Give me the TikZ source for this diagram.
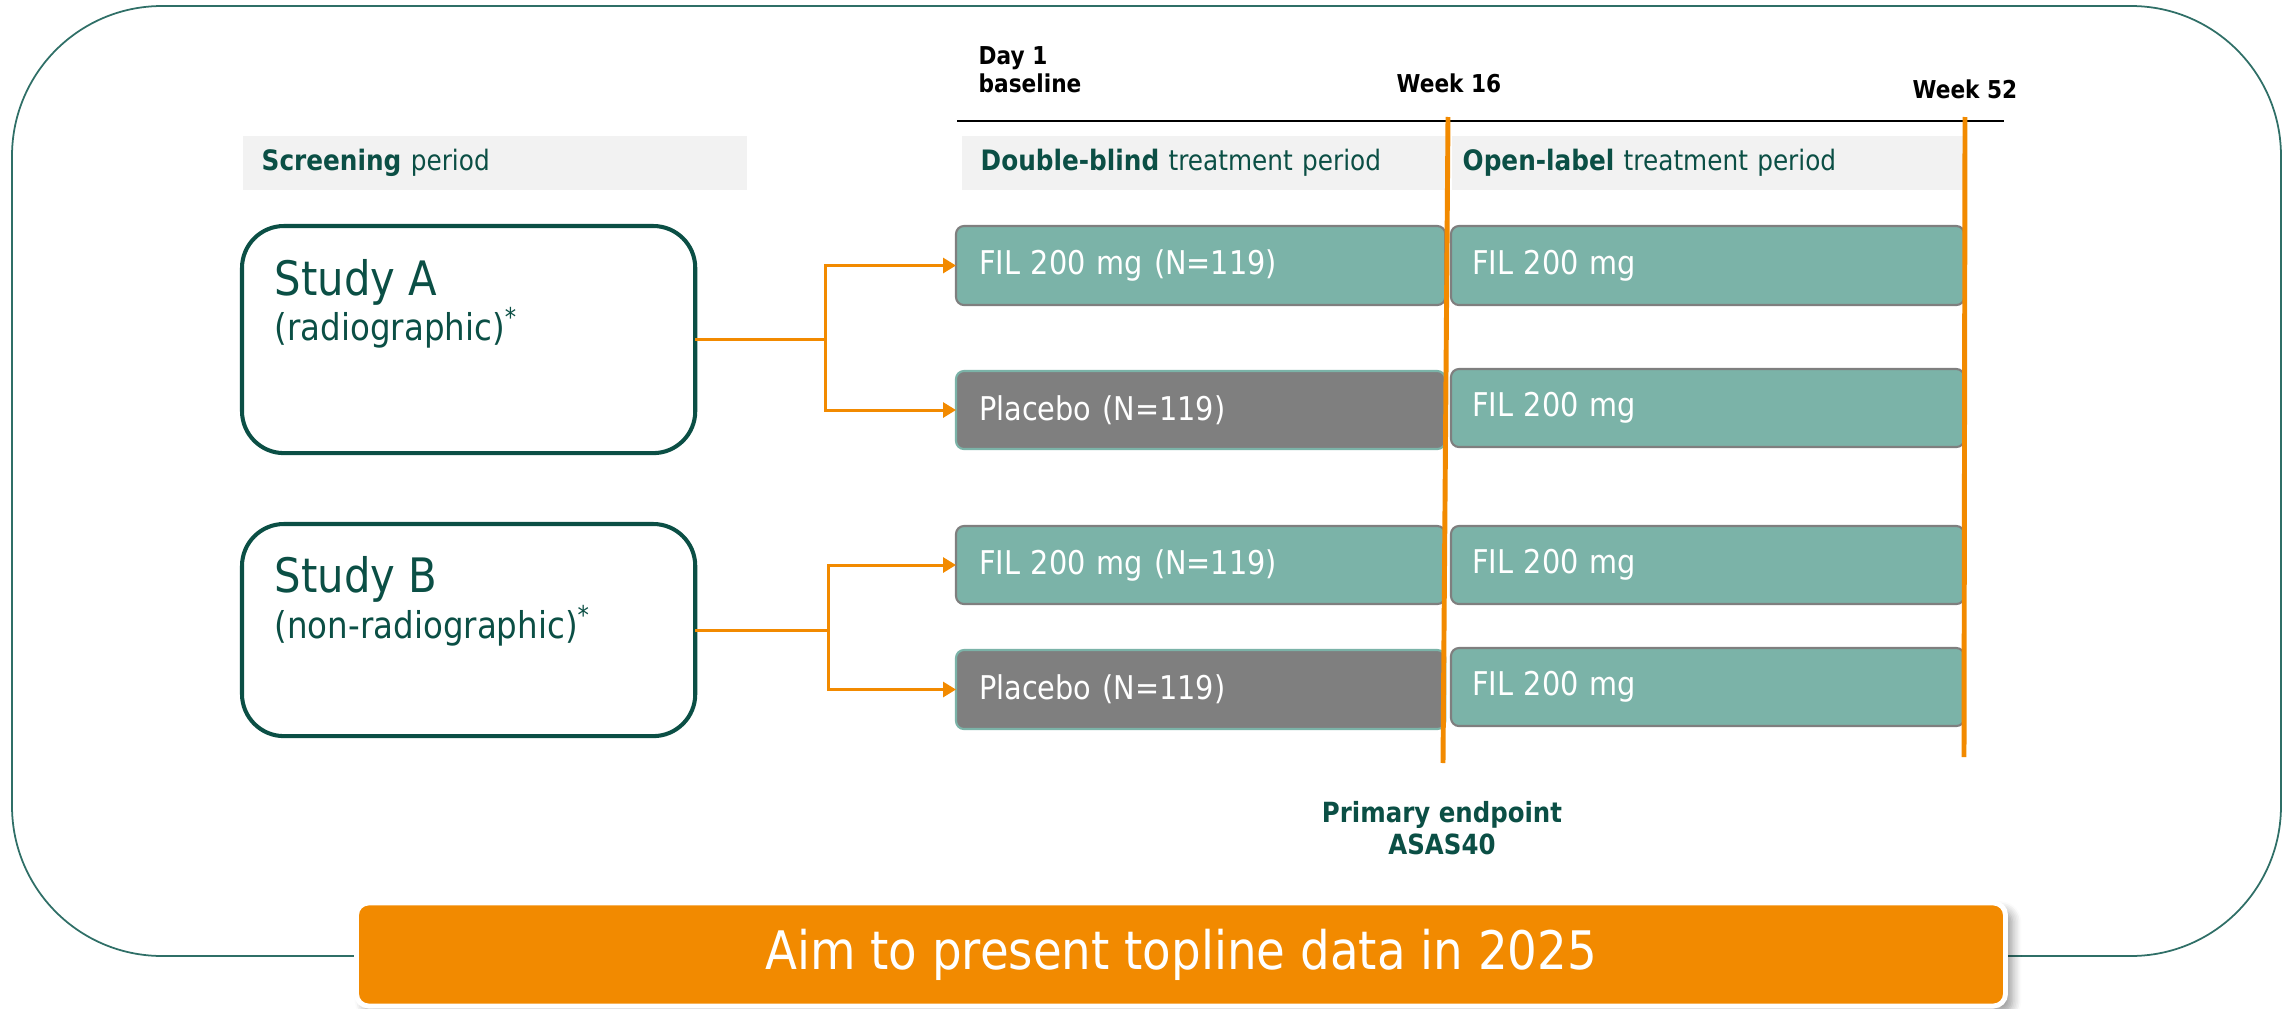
\documentclass[tikz,border=0pt]{standalone}
\usepackage{fontspec}
\setmainfont{DejaVu Sans}[FakeStretch=0.88]
\usetikzlibrary{arrows.meta,shadows.blur}
\definecolor{dkgreen}{HTML}{0B4F45}
\definecolor{filteal}{HTML}{7BB3A8}
\definecolor{pgray}{HTML}{7F7F7F}
\definecolor{bandgray}{HTML}{F2F2F2}
\definecolor{orng}{HTML}{F28A00}
\definecolor{framec}{HTML}{2F6F67}
\begin{document}
\begin{tikzpicture}[x=0.01cm,y=-0.01cm,
  framebox/.style={draw=framec,line width=0.5pt,rounded corners=1.5cm},
  bandbox/.style={fill=bandgray,anchor=north west,minimum height=0.54cm,inner ysep=0pt,inner xsep=0.19cm,align=left,text=dkgreen,font=\fontsize{8}{9.6}\selectfont},
  studybox/.style={draw=dkgreen,line width=1.15pt,rounded corners=0.42cm,anchor=north west,minimum width=4.53cm,inner sep=0pt,outer sep=0pt},
  studytitle/.style={anchor=base west,inner sep=0pt,text=dkgreen,font=\fontsize{13.5}{16}\selectfont},
  studysub/.style={anchor=base west,inner sep=0pt,text=dkgreen,font=\fontsize{10.5}{12.6}\selectfont},
  armbox/.style={anchor=north west,rounded corners=0.08cm,inner ysep=0pt,outer sep=0pt,align=left,text=white,line width=0.6pt,font=\fontsize{9.3}{11}\selectfont},
  filbox/.style={armbox,fill=filteal,draw=pgray},
  plabox/.style={armbox,fill=pgray,draw=filteal},
  dbl/.style={text width=4.43cm,inner xsep=0.23cm},
  opn/.style={text width=4.71cm,inner xsep=0.21cm},
  conn/.style={draw=orng,line width=0.85pt},
  connarrow/.style={conn,-{Triangle[length=0.13cm,width=0.15cm]}},
  weekline/.style={draw=orng,line width=1.4pt},
  hdr/.style={inner sep=0pt,font=\bfseries\fontsize{7}{8}\selectfont},
]
\useasboundingbox (0,0) rectangle (2293,1009);

% outer frame
\draw[framebox] (12,6) rectangle (2281,956);

% timeline header
\coordinate (tl0) at (957,121);
\coordinate (tl1) at (2004,121);
\draw[line width=0.85pt] (tl0) -- (tl1);
\node[hdr,anchor=north west,align=left] (day1) at (978,46) {Day 1\\baseline};
\node[hdr,anchor=base] (wk16) at (1449,93) {Week 16};
\node[hdr,anchor=base] (wk52) at (1965,98) {Week 52};

% period bands
\node[bandbox,text width=4.66cm] (scr) at (242,135) {\textbf{Screening} period};
\node[bandbox,text width=4.46cm] (dbp) at (961,135) {\textbf{Double-blind} treatment period};
\node[bandbox,text width=4.91cm,inner xsep=0.11cm] (olp) at (1451,135) {\textbf{Open-label} treatment period};

% study boxes
\node[studybox,minimum height=2.27cm] (sa) at (242,226) {};
\node[studytitle] (saT) at (274,295) {Study A};
\node[studysub] (saS) at (274,340) {(radiographic)\textsuperscript{*}};
\node[studybox,minimum height=2.12cm] (sb) at (242,524) {};
\node[studytitle] (sbT) at (274,592) {Study B};
\node[studysub] (sbS) at (274,638) {(non-radiographic)\textsuperscript{*}};

% double-blind arms
\node[filbox,dbl,minimum height=0.79cm] (fa) at (956,226) {FIL 200 mg (N=119)};
\node[plabox,dbl,minimum height=0.78cm] (pa) at (956,371) {Placebo (N=119)};
\node[filbox,dbl,minimum height=0.78cm] (fb) at (956,526) {FIL 200 mg (N=119)};
\node[plabox,dbl,minimum height=0.79cm] (pb) at (956,650) {Placebo (N=119)};

% open-label arms
\node[filbox,opn,minimum height=0.79cm] (oa1) at (1451,226) {FIL 200 mg};
\node[filbox,opn,minimum height=0.78cm] (oa2) at (1451,369) {FIL 200 mg};
\node[filbox,opn,minimum height=0.78cm] (ob1) at (1451,526) {FIL 200 mg};
\node[filbox,opn,minimum height=0.78cm] (ob2) at (1451,648) {FIL 200 mg};

% connectors
\path (sa.east) ++(130,0) coordinate (ja);
\draw[conn] (sa.east) -- (ja);
\draw[connarrow] (ja) |- (fa.west);
\draw[connarrow] (ja) |- (pa.west);
\path (sb.east) ++(133,0) coordinate (jb);
\draw[conn] (sb.east) -- (jb);
\draw[connarrow] (jb) |- (fb.west);
\draw[connarrow] (jb) |- (pb.west);

% week lines
\coordinate (w16a) at (1448,117);
\coordinate (w16b) at (1443,763);
\coordinate (w52a) at (1965,117);
\coordinate (w52b) at (1964,757);
\draw[weekline] (w16a) -- (w16b);
\draw[weekline] (w52a) -- (w52b);

% primary endpoint
\node[anchor=north,align=center,inner sep=0pt,text=dkgreen,font=\bfseries\fontsize{7.9}{9.1}\selectfont] (pe) at (1442,801) {Primary endpoint\\ASAS40};

% bottom banner
\node[fill=orng,draw=white,line width=1.4pt,rounded corners=0.12cm,minimum width=16.48cm,minimum height=1.03cm,text=white,
  font=\fontsize{15.1}{18}\selectfont,
  blur shadow={shadow xshift=2pt,shadow yshift=-2pt,shadow blur steps=6,shadow blur radius=2.5pt,shadow opacity=40}] (aim) at (1181,954.5) {Aim to present topline data in 2025};
\end{tikzpicture}
\end{document}
